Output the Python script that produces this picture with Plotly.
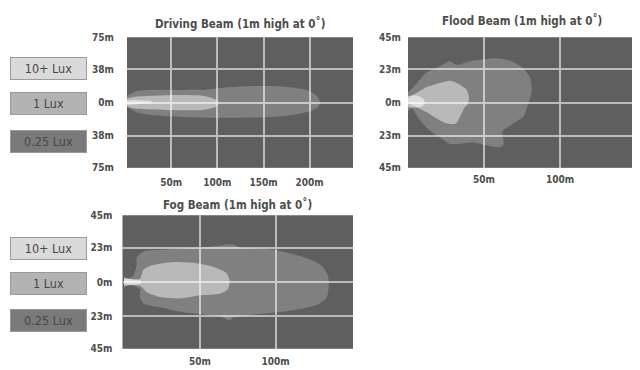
import plotly.graph_objects as go

# ---------------- data ----------------
legend_labels = ["10+ Lux", "1 Lux", "0.25 Lux"]
titles = ["Driving Beam (1m high at 0˚)", "Flood Beam (1m high at 0˚)", "Fog Beam (1m high at 0˚)"]

# axis ticks
drive_x_ticks = [50, 100, 150, 200]
drive_x_text = ["50m", "100m", "150m", "200m"]
drive_y_ticks = [-75, -38, 0, 38, 75]
drive_y_text = ["75m", "38m", "0m", "38m", "75m"]
short_x_ticks = [50, 100]
short_x_text = ["50m", "100m"]
short_y_ticks = [-45, -23, 0, 23, 45]
short_y_text = ["45m", "23m", "0m", "23m", "45m"]

# beam contours: distance (m) and lateral offset (m)
drive_025_dist = [0, 3, 12, 25, 50, 90, 110, 140, 170, 190, 202, 209, 211, 209, 200, 180, 150, 120, 90, 60, 35, 15, 5, 0]
drive_025_off = [2, 8, 13, 14.5, 14.5, 15, 17.5, 19, 18.5, 16, 12, 6, 0, -5, -10, -14.5, -17, -17.5, -17.5, -16.5, -15, -12, -7, -2]
drive_1_dist = [0, 3, 14, 48, 84, 97, 102, 98, 84, 48, 14, 3, 0]
drive_1_off = [1, 5, 7, 8.5, 7.8, 4, 0, -5, -8.5, -8.5, -7, -5, -1]
drive_10_dist = [0, 8, 18, 28, 30, 28, 18, 8, 0]
drive_10_off = [2, 3, 2.5, 1.5, 0.5, -0.5, -1.5, -2.5, -2]

flood_025_dist = [0, 3.5, 12, 21, 27.5, 32, 41, 52, 56, 65, 74, 80, 81.5, 79, 76, 67, 62, 63, 60.5, 52, 43, 27.5, 21, 13.5, 7, 2.5, 0]
flood_025_off = [7, 10.5, 20.5, 25, 28.5, 26, 28.5, 30, 30.5, 29.5, 25, 18, 8, -1, -9.5, -16, -20, -28.5, -31, -29.5, -27.5, -28.5, -24, -18.5, -11, -4, -6]
flood_1_dist = [0, 5.5, 12, 21, 28, 34, 38.5, 40, 39.5, 37.5, 35, 31.5, 25.5, 19, 12, 5.5, 1.5, 0]
flood_1_off = [3, 6.5, 10.5, 13.5, 15, 12.5, 9, 4, -1, -3, -8, -14.5, -14.5, -11, -6.5, -3, -1, 0]
flood_10_dist = [0, 4, 8, 10.5, 11, 9.5, 6, 2, 0]
flood_10_off = [4.5, 5, 4, 2, -0.5, -2.5, -3.5, -3.5, -3]

fog_025_dist = [0, 6, 8.3, 8.3, 12.7, 30, 52, 72, 76, 96, 111, 124.5, 131, 134.5, 135, 133.5, 127, 107, 85, 72, 70, 63, 41, 26, 12.7, 10.5, 10.5, 4, 0]
fog_025_off = [1, 4, 11.5, 16.5, 20.5, 22, 23.5, 25.3, 23.5, 22, 18.8, 14.5, 10.3, 4, -2.5, -11, -15.5, -19.7, -22, -24, -25.7, -23, -20.8, -17.6, -14.4, -10, -4.7, -1.5, -0.5]
fog_1_dist = [0, 10.5, 12.7, 19.3, 32.4, 45.6, 58.8, 67.6, 69.7, 68.6, 63.2, 50, 36.8, 23.7, 14.9, 10.5, 0]
fog_1_off = [2.5, 2, 8.2, 11.4, 13.5, 12.9, 10.3, 6, 0.6, -4.7, -7.9, -9, -11.1, -10.1, -6.9, -2.6, -2]
fog_10_dist = [0, 5, 11, 11, 5, 0]
fog_10_off = [3, 1.8, 1, -1, -1.8, -3]

# ---------------- style ----------------
FONT = "Liberation Sans Narrow, DejaVu Sans Condensed, Arial Narrow, sans-serif"
TXT = "#4d4d4d"
BG = "#5f5f5f"
GRID = "#bcbcbc"
fill_025 = "rgba(255,255,255,0.21)"
fill_1 = "rgba(255,255,255,0.45)"
fill_10 = "rgba(255,255,255,0.50)"
legend_fill = ["#dadada", "#b3b3b3", "#7a7a7a"]

W, H = 640, 370
OFF = 8  # page body margin offset


def px_x(p):
    return (p - OFF) / W


def px_y(p):
    return 1 - (p - OFF) / H


fig = go.Figure()

beams = [
    ("x", "y", [(drive_025_dist, drive_025_off, fill_025), (drive_1_dist, drive_1_off, fill_1), (drive_10_dist, drive_10_off, fill_10)]),
    ("x2", "y2", [(flood_025_dist, flood_025_off, fill_025), (flood_1_dist, flood_1_off, fill_1), (flood_10_dist, flood_10_off, fill_10)]),
    ("x3", "y3", [(fog_025_dist, fog_025_off, fill_025), (fog_1_dist, fog_1_off, fill_1), (fog_10_dist, fog_10_off, fill_10)]),
]
for xa, ya, levels in beams:
    for d, o, c in levels:
        fig.add_trace(go.Scatter(x=d, y=o, xaxis=xa, yaxis=ya, mode="lines", fill="toself",
                                 fillcolor=c, line=dict(width=0, shape="spline", smoothing=0.6),
                                 hoverinfo="skip", showlegend=False))

tickfont = dict(family=FONT, size=10, color=TXT, weight="bold")


def xax(dom, rng, tv, tt, standoff, anchor):
    return dict(domain=dom, range=rng, tickvals=tv, ticktext=tt, showgrid=True, gridcolor=GRID,
                gridwidth=2, zeroline=False, showline=False, ticks="outside", ticklen=standoff,
                tickcolor="rgba(0,0,0,0)", tickfont=tickfont, fixedrange=True, anchor=anchor)


def yax(dom, rng, tv, tt, standoff, anchor):
    return dict(domain=dom, range=rng, tickvals=tv, ticktext=tt, showgrid=True, gridcolor=GRID,
                gridwidth=2, zeroline=False, showline=False, ticks="outside", ticklen=standoff,
                tickcolor="rgba(0,0,0,0)", tickfont=tickfont, fixedrange=True, anchor=anchor)


top_dom = [px_y(167), px_y(32)]
fig.update_layout(
    width=W, height=H, margin=dict(l=0, r=0, t=0, b=0),
    paper_bgcolor="white", plot_bgcolor=BG,
    xaxis=xax([px_x(127), px_x(353)], [2, 247], drive_x_ticks, drive_x_text, 5, "y"),
    yaxis=yax(top_dom, [-75, 75], drive_y_ticks, drive_y_text, 10, "x"),
    xaxis2=xax([px_x(408), px_x(636)], [0, 150], short_x_ticks, short_x_text, 2, "y2"),
    yaxis2=yax(top_dom, [-45, 45], short_y_ticks, short_y_text, 4, "x2"),
    xaxis3=xax([px_x(122.5), px_x(353)], [-1, 151], short_x_ticks, short_x_text, 3, "y3"),
    yaxis3=yax([px_y(354), px_y(216)], [-45, 45], short_y_ticks, short_y_text, 7, "x3"),
)

# titles
title_pos = [(240, 18), (522, 15), (237, 205)]
for t, (cx, cy) in zip(titles, title_pos):
    fig.add_annotation(text="<b>%s</b>" % t, x=px_x(cx), y=px_y(cy), xref="paper", yref="paper",
                       showarrow=False, font=dict(family=FONT, size=11.5, color=TXT),
                       xanchor="center", yanchor="middle")

# legend boxes
legend_centers = [[64.5, 101, 139.5], [250.5, 287, 324.5]]
for centers in legend_centers:
    for lab, col, cy in zip(legend_labels, legend_fill, centers):
        fig.add_annotation(text=lab, x=px_x(48.5), y=px_y(cy), xref="paper", yref="paper",
                           showarrow=False, font=dict(family=FONT, size=12.5, color="#474747"),
                           bgcolor=col, bordercolor="#9a9a9a", borderwidth=1, borderpad=0,
                           width=75, height=21, xanchor="center", yanchor="middle")

fig.write_html("out.html")
